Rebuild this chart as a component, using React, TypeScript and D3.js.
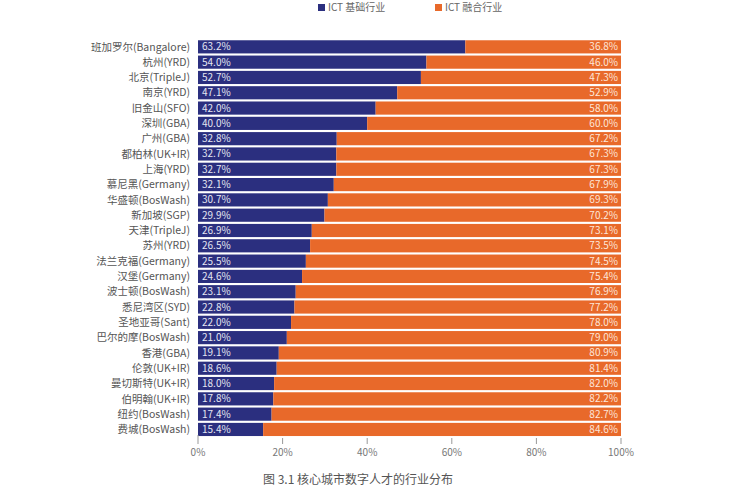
import React from "react";
import * as d3 from "d3";

const cities = [
  "班加罗尔(Bangalore)", "杭州(YRD)", "北京(TripleJ)", "南京(YRD)", "旧金山(SFO)", "深圳(GBA)",
  "广州(GBA)", "都柏林(UK+IR)", "上海(YRD)", "慕尼黑(Germany)", "华盛顿(BosWash)", "新加坡(SGP)",
  "天津(TripleJ)", "苏州(YRD)", "法兰克福(Germany)", "汉堡(Germany)", "波士顿(BosWash)", "悉尼湾区(SYD)",
  "圣地亚哥(Sant)", "巴尔的摩(BosWash)", "香港(GBA)", "伦敦(UK+IR)", "曼切斯特(UK+IR)", "伯明翰(UK+IR)",
  "纽约(BosWash)", "费城(BosWash)",
];
const basic = [63.2, 54.0, 52.7, 47.1, 42.0, 40.0, 32.8, 32.7, 32.7, 32.1, 30.7, 29.9, 26.9, 26.5, 25.5, 24.6, 23.1, 22.8, 22.0, 21.0, 19.1, 18.6, 18.0, 17.8, 17.4, 15.4];
const fusion = [36.8, 46.0, 47.3, 52.9, 58.0, 60.0, 67.2, 67.3, 67.3, 67.9, 69.3, 70.2, 73.1, 73.5, 74.5, 75.4, 76.9, 77.2, 78.0, 79.0, 80.9, 81.4, 82.0, 82.2, 82.7, 84.6];
const ticks = [0, 20, 40, 60, 80, 100];
const seriesNames = ["ICT 基础行业", "ICT 融合行业"];
const colors = ["#2b2f7f", "#e8692a"];
const caption = "图 3.1 核心城市数字人才的行业分布";

const W = 729, H = 486;
const FONT = "'Noto Sans CJK SC', 'Noto Sans', sans-serif";

export default function App() {
  const x = d3.scaleLinear().domain([0, 100]).range([198, 621]);
  const y = d3.scaleBand().domain(cities).range([39.5, 436.8]).paddingInner(0.14).paddingOuter(0.05);
  const bh = y.bandwidth();
  const fmt = (v: number) => v.toFixed(1) + "%";
  return (
    <svg width={W} height={H} style={{ position: "absolute", left: 0, top: 0, background: "#fff" }} fontFamily={FONT}>
      {/* legend */}
      <g fontSize={10} fill="#666">
        <rect x={318} y={4} width={7} height={7} fill={colors[0]} />
        <text x={328} y={11}>{seriesNames[0]}</text>
        <rect x={435} y={4} width={7} height={7} fill={colors[1]} />
        <text x={445} y={11}>{seriesNames[1]}</text>
      </g>
      {cities.map((c, i) => {
        const yy = y(c)!;
        const b = basic[i];
        const f = fusion[i];
        const fEnd = Math.min(100, b + f);
        return (
          <g key={c}>
            <text x={190} y={yy + bh / 2} dy="0.35em" textAnchor="end" fontSize={10.5} fill="#555">{c}</text>
            <rect x={x(0)} y={yy} width={x(b) - x(0)} height={bh} fill={colors[0]} />
            <rect x={x(b)} y={yy} width={x(fEnd) - x(b)} height={bh} fill={colors[1]} />
            <text x={x(0) + 4} y={yy + bh / 2} dy="0.35em" fontSize={10} fill="#e4e6f2">{fmt(b)}</text>
            <text x={x(100) - 3} y={yy + bh / 2} dy="0.35em" textAnchor="end" fontSize={10} fill="#fde6d8">{fmt(f)}</text>
          </g>
        );
      })}
      {/* x axis ticks */}
      <g>
        {ticks.map((t) => (
          <g key={t}>
            <line x1={x(t)} x2={x(t)} y1={t === 0 ? 435 : 438} y2={444} stroke="#999" strokeWidth={1} />
            <text x={x(t)} y={456} textAnchor="middle" fontSize={10} fill="#777">{t + "%"}</text>
          </g>
        ))}
      </g>
      <text x={358} y={484} textAnchor="middle" fontSize={12} fill="#555">{caption}</text>
    </svg>
  );
}
